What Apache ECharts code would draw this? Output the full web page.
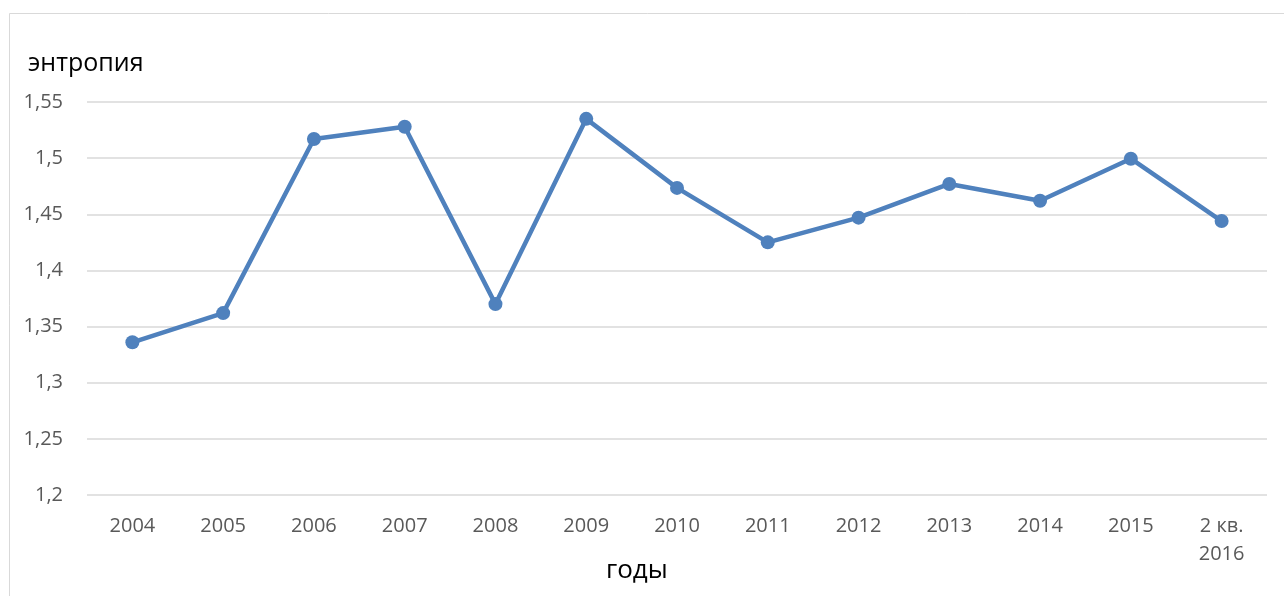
<!DOCTYPE html>
<html><head><meta charset="utf-8">
<script src="https://cdn.jsdelivr.net/npm/echarts@6/dist/echarts.min.js"></script>
<style>html,body{margin:0;padding:0;background:#fff}#c{width:1284px;height:596px}</style>
</head><body><div id="c"></div>
<script>
const categories = ['2004','2005','2006','2007','2008','2009','2010','2011','2012','2013','2014','2015','2 кв.\n2016'];
const entropy = [1.336,1.362,1.517,1.528,1.370,1.535,1.4735,1.425,1.447,1.477,1.462,1.4995,1.444];
const yTicks = {min:1.2, max:1.55, interval:0.05};
const yName = 'энтропия';
const xName = 'годы';

const chart = echarts.init(document.getElementById('c'), null, {renderer:'canvas'});
const font = '"Open Sans", "Liberation Sans", sans-serif';
chart.setOption({
  animation:false,
  backgroundColor:'#fff',
  graphic:[{type:'rect', shape:{x:9.5,y:13.5,width:1290,height:600}, style:{fill:'none',stroke:'#d9d9d9',lineWidth:1}, silent:true},
           {type:'text', left:28, top:51, style:{text:yName, font:'25px '+font, fill:'#000'}},
           {type:'text', left:606, top:558, style:{text:xName, font:'26px '+font, fill:'#000'}}],
  grid:{left:87, right:17, top:102, bottom:101},
  xAxis:{type:'category', data:categories, boundaryGap:true,
    axisLine:{show:false}, axisTick:{show:false},
    axisLabel:{color:'#595959', fontSize:20, fontFamily:font, margin:17, lineHeight:28}},
  yAxis:{type:'value', min:yTicks.min, max:yTicks.max, interval:yTicks.interval,
    axisLine:{show:false}, axisTick:{show:false},
    splitLine:{lineStyle:{color:'#d9d9d9', width:1.5}},
    axisLabel:{color:'#595959', fontSize:20, fontFamily:font, margin:24,
      formatter:v=>String(Math.round(v*100)/100).replace('.',',')}},
  series:[{type:'line', data:entropy, symbol:'circle', symbolSize:14,
    lineStyle:{color:'#4f81bd', width:4.5}, itemStyle:{color:'#4f81bd'}}]
});
</script></body></html>
